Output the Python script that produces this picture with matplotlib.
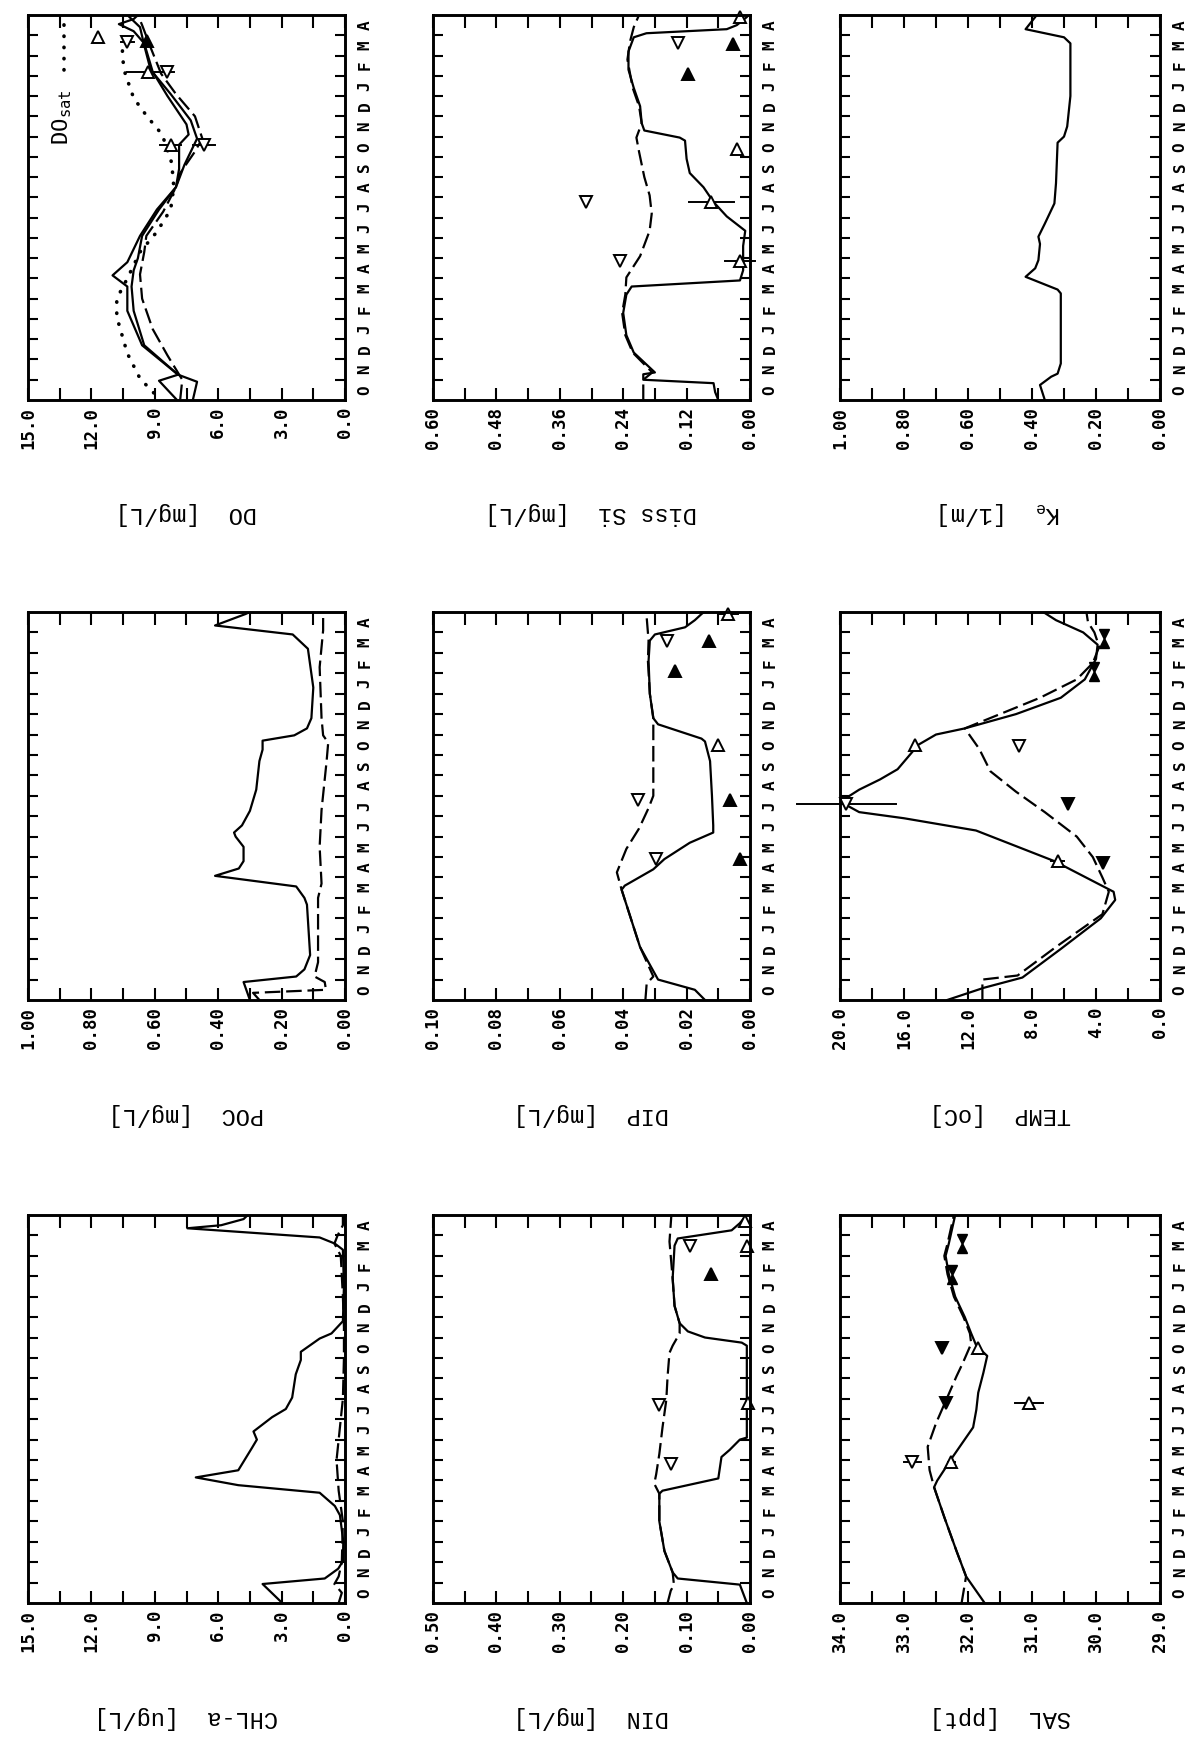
import numpy as np
import matplotlib.pyplot as plt
from matplotlib.transforms import offset_copy

plt.rcParams['font.family'] = ['DejaVu Sans Mono', 'DejaVu Sans']
plt.rcParams['mathtext.fontset'] = 'dejavusans'

W, H = 1201, 1742
months = list("ONDJFMAMJJASONDJFMA")

# time axis: months since 1 Oct (0..19)

# ---- CHL-a [ug/L]
chl_t = [0, 0.93, 1.2, 1.68, 2.05, 3.0, 4.3, 4.75, 5.4, 5.77, 6.15, 6.5, 7.6, 8.0, 8.4, 9.1, 9.5,
         10.06, 11.2, 11.9, 12.3, 12.95, 13.2, 13.8, 15.5, 17.3, 17.6, 17.9, 18.35, 18.5, 18.8, 19.0]
chl_s = [2.97, 3.9, 0.96, 0.32, 0.1, 0.08, 0.24, 0.48, 1.2, 5.05, 7.06, 5.05, 4.4, 4.17, 4.33, 3.45, 2.8,
         2.5, 2.33, 2.09, 2.09, 1.2, 0.64, 0.1, 0.05, 0.1, 0.48, 1.2, 7.46, 5.86, 4.8, 4.6]
chl_bt = [0, 0.5, 0.93, 1.3, 2.0, 4.0, 5.5, 7.0, 8.5, 10, 12, 13.5, 15, 17.0, 17.6, 18.0, 18.5, 19]
chl_b = [0.3, 0.15, 0.5, 0.3, 0.15, 0.1, 0.3, 0.4, 0.25, 0.1, 0.05, 0.05, 0.1, 0.2, 0.5, 0.35, 0.1, 0.1]

# ---- POC [mg/L]
poc_t = [0, 0.88, 1.15, 1.5, 2.2, 4.67, 5.0, 5.56, 6.08, 6.44, 6.8, 7.5, 8.0, 8.2, 8.55, 9.26, 10.3,
         11.7, 12.26, 12.7, 12.96, 13.3, 13.8, 15.3, 17.2, 17.9, 18.34, 18.9, 19]
poc_s = [0.30, 0.32, 0.154, 0.128, 0.11, 0.12, 0.128, 0.154, 0.41, 0.335, 0.32, 0.32, 0.345, 0.35, 0.325,
         0.30, 0.28, 0.27, 0.26, 0.26, 0.16, 0.12, 0.106, 0.10, 0.117, 0.165, 0.41, 0.314, 0.30]
poc_bt = [0, 0.35, 0.5, 0.88, 1.15, 1.85, 5.0, 5.7, 7.5, 9.3, 11.7, 12.6, 12.96, 13.8, 16.3, 18.1, 19]
poc_b = [0.27, 0.29, 0.06, 0.064, 0.096, 0.085, 0.085, 0.074, 0.08, 0.074, 0.058, 0.053, 0.069, 0.074,
         0.08, 0.069, 0.069]

# ---- DO [mg/L]
do_ta = [0, 0.9, 1.25, 2.7, 4.4, 5.6, 6.15, 6.8, 8.1, 9.4, 10.5, 11.4, 12.6, 13.1, 13.6, 15.0, 16.2,
         17.6, 18.2, 18.55, 18.8, 19]
do_a = [7.2, 7.0, 7.9, 9.6, 10.3, 10.3, 11.0, 10.3, 9.7, 8.9, 8.0, 7.85, 7.85, 7.4, 7.5, 8.4, 9.1,
        9.5, 10.0, 10.7, 10.0, 9.8]
do_tb = [0, 0.95, 1.25, 2.7, 4.4, 5.6, 6.4, 7.0, 8.1, 9.4, 10.5, 11.6, 12.9, 13.8, 15.1, 16.3, 17.5, 18.4, 19]
do_b = [7.95, 8.8, 7.9, 9.5, 10.0, 10.1, 10.0, 9.8, 9.6, 8.8, 8.0, 7.6, 7.0, 7.3, 8.25, 9.2, 9.5, 9.7, 10.3]
do_td = [0, 1.0, 2.2, 3.5, 5.0, 6.2, 7.3, 8.1, 9.3, 10.5, 11.2, 12.2, 12.9, 14.0, 15.1, 16.1, 17.4, 18.5, 19]
do_d = [7.8, 7.7, 8.4, 9.1, 9.6, 9.7, 9.5, 9.4, 8.6, 8.0, 7.8, 7.14, 6.75, 7.1, 8.0, 8.7, 9.2, 9.6, 9.8]
dosat_t = [0.35, 1.06, 2.3, 4.1, 5.0, 6.0, 7.3, 8.3, 9.4, 10.5, 11.7, 13.1, 14.0, 14.9, 16.1, 17.0, 17.6]
dosat = [9.05, 9.7, 10.3, 10.8, 10.8, 10.3, 9.7, 8.9, 8.25, 8.1, 8.2, 8.65, 9.37, 10.0, 10.4, 10.55, 10.5]
do_obs_t = [17.9, 17.65, 17.7, 16.2, 16.2, 12.6, 12.6]
do_obs_v = [11.7, 10.3, 9.37, 9.3, 8.4, 8.25, 6.67]
do_obs_k = ['u', 'd', 'uf', 'u', 'd', 'u', 'd']
do_obs_e = [0, 0.3, 0, 1.0, 0.3, 0.5, 0.5]

# ---- DIN [mg/L]
din_t = [0, 0.9, 1.2, 1.5, 2.55, 4.0, 5.35, 5.5, 6.1, 7.15, 7.5, 8.0, 8.1, 12.6, 12.75, 13.0, 13.3,
         13.7, 14.55, 15.9, 17.5, 17.85, 18.25, 18.6, 18.9, 19]
din_s = [0.005, 0.016, 0.114, 0.122, 0.135, 0.143, 0.143, 0.138, 0.05, 0.045, 0.032, 0.016, 0.005, 0.005,
         0.013, 0.071, 0.098, 0.111, 0.119, 0.122, 0.119, 0.114, 0.029, 0.016, 0.008, 0.006]
din_bt = [0, 0.6, 0.9, 1.5, 2.55, 4.0, 5.35, 5.84, 6.3, 7.3, 8.6, 9.95, 11.1, 12.25, 12.6, 13.2, 13.7,
          14.55, 15.9, 17.7, 19]
din_b = [0.13, 0.125, 0.12, 0.122, 0.135, 0.143, 0.143, 0.151, 0.148, 0.143, 0.138, 0.132, 0.13, 0.127,
         0.122, 0.111, 0.111, 0.119, 0.122, 0.127, 0.124]
din_obs_t = [6.8, 9.7, 9.8, 17.5, 16.1, 17.5, 18.7]
din_obs_v = [0.124, 0.143, 0.003, 0.005, 0.061, 0.095, 0.008]
din_obs_k = ['d', 'd', 'u', 'u', 'uf', 'd', 'u']
din_obs_e = [0, 0, 0, 0, 0, 0, 0]

# ---- DIP [mg/L]
dip_t = [0, 0.5, 1.0, 2.6, 5.4, 5.6, 6.4, 6.9, 7.7, 8.2, 8.55, 10.0, 11.7, 12.66, 12.8, 13.5, 13.8,
         15.0, 16.6, 17.6, 17.9, 18.25, 18.6, 18.9, 19]
dip_s = [0.0142, 0.0174, 0.029, 0.0347, 0.0405, 0.0395, 0.0305, 0.027, 0.019, 0.0116, 0.0116, 0.012,
         0.0126, 0.0142, 0.0153, 0.029, 0.0305, 0.0316, 0.032, 0.0316, 0.030, 0.0205, 0.0174, 0.0153, 0.0145]
dip_bt = [0, 0.8, 1.15, 2.6, 5.4, 6.25, 7.4, 8.4, 9.4, 10.0, 11.7, 13.3, 13.8, 15.0, 16.6, 17.6, 18.75, 19]
dip_b = [0.033, 0.0326, 0.0305, 0.0347, 0.0405, 0.042, 0.039, 0.035, 0.032, 0.0305, 0.0305, 0.0305,
         0.0305, 0.0316, 0.0322, 0.032, 0.0326, 0.0326]
dip_obs_t = [6.9, 9.8, 17.6, 6.9, 9.8, 12.5, 17.6, 16.1, 18.9]
dip_obs_v = [0.0295, 0.0353, 0.0263, 0.003, 0.0063, 0.010, 0.013, 0.0237, 0.0068]
dip_obs_k = ['d', 'd', 'd', 'uf', 'uf', 'u', 'uf', 'uf', 'u']
dip_obs_e = [0, 0, 0, 0, 0, 0, 0, 0, 0.003]

# ---- Diss Si [mg/L]
si_t = [0, 0.39, 0.83, 1.0, 1.27, 1.36, 2.34, 3.2, 4.3, 5.2, 5.6, 5.9, 6.4, 7.6, 8.35, 9.06, 9.77, 10.5,
        11.2, 11.9, 12.8, 12.95, 13.3, 13.66, 14.5, 15.4, 16.3, 17.2, 17.9, 18.1, 18.3, 18.5, 18.9, 19]
si_s = [0.06, 0.066, 0.069, 0.202, 0.202, 0.18, 0.22, 0.234, 0.24, 0.234, 0.224, 0.019, 0.013, 0.013,
        0.009, 0.044, 0.069, 0.088, 0.114, 0.12, 0.123, 0.133, 0.2, 0.205, 0.208, 0.22, 0.23, 0.23, 0.22,
        0.196, 0.044, 0.025, 0.006, 0.003]
si_bt = [0, 1.0, 1.36, 2.34, 3.2, 4.3, 5.2, 6.05, 7.1, 8.35, 9.2, 10.1, 11.0, 12.25, 12.95, 13.66, 14.5,
         15.4, 16.8, 17.7, 18.4, 19]
si_b = [0.202, 0.202, 0.185, 0.222, 0.236, 0.242, 0.236, 0.234, 0.208, 0.19, 0.186, 0.19, 0.2, 0.21,
        0.215, 0.205, 0.21, 0.222, 0.232, 0.227, 0.22, 0.21]
si_obs_t = [6.86, 9.77, 17.6, 6.86, 9.77, 12.4, 16.1, 17.55, 18.9]
si_obs_v = [0.246, 0.31, 0.136, 0.019, 0.073, 0.025, 0.117, 0.032, 0.019]
si_obs_k = ['d', 'd', 'd', 'u', 'u', 'u', 'uf', 'uf', 'u']
si_obs_e = [0, 0, 0, 0.028, 0.043, 0, 0, 0, 0]

# ---- TEMP [oC]
tmp_t = [0, 0.6, 1.1, 2.5, 4.0, 4.9, 5.3, 6.8, 8.3, 8.9, 9.2, 9.5, 9.9, 10.3, 10.8, 11.3, 12.5, 13.0,
         13.3, 14.0, 14.8, 15.7, 16.7, 17.4, 18.0, 18.6, 19]
tmp_s = [13.3, 11.0, 8.6, 6.2, 3.7, 2.8, 2.9, 6.6, 11.5, 16.0, 18.8, 19.5, 19.6, 18.8, 17.5, 16.4, 15.1,
         14.0, 12.2, 9.0, 6.2, 4.7, 4.0, 3.9, 4.8, 6.5, 7.3]
tmp_bt = [0, 1.0, 1.2, 2.6, 4.2, 5.3, 6.0, 7.0, 8.0, 9.2, 10.2, 11.2, 12.3, 13.3, 14.0, 14.8, 15.7, 16.5,
          17.3, 18.0, 18.5, 19]
tmp_b = [11.1, 11.1, 8.9, 6.5, 3.6, 3.2, 3.6, 4.2, 5.2, 7.2, 9.0, 10.6, 11.3, 12.2, 10.0, 7.5, 5.2, 4.2,
         3.8, 4.1, 4.5, 4.6]
tmp_obs_t = [9.6, 6.8, 12.5, 12.45, 9.6, 6.7, 16.1, 17.7]
tmp_obs_v = [19.6, 6.4, 15.3, 8.8, 5.76, 3.56, 4.1, 3.5]
tmp_obs_k = ['d', 'u', 'u', 'd', 'df', 'df', 'b', 'b']
tmp_obs_e = [3.1, 0.4, 0, 0, 0, 0, 0, 0]

# ---- SAL [ppt]
sal_t = [0, 1.3, 2.55, 4.2, 5.67, 6.0, 7.15, 7.65, 8.6, 9.46, 10.3, 11.27, 12.1, 12.6, 13.2, 14.0, 15.0,
         16.1, 17.0, 17.6, 18.3, 19]
sal_s = [31.74, 32.03, 32.18, 32.37, 32.53, 32.48, 32.24, 32.13, 31.92, 31.87, 31.84, 31.76, 31.7, 31.87,
         31.95, 32.05, 32.2, 32.3, 32.35, 32.3, 32.25, 32.2]
sal_bt = [0, 1.3, 2.55, 4.2, 5.67, 6.5, 7.65, 8.8, 9.95, 11.1, 11.76, 12.7, 13.2, 14.0, 15.0, 16.1, 17.0,
          17.6, 18.3, 19]
sal_b = [32.1, 32.03, 32.18, 32.37, 32.53, 32.6, 32.63, 32.5, 32.34, 32.18, 32.08, 31.95, 31.97, 32.07,
         32.22, 32.32, 32.37, 32.32, 32.27, 32.22]
sal_obs_t = [6.9, 6.9, 9.8, 9.8, 12.5, 12.5, 16.1, 17.6]
sal_obs_v = [32.87, 32.26, 32.34, 31.05, 32.4, 31.84, 32.25, 32.1]
sal_obs_k = ['d', 'u', 'df', 'u', 'df', 'u', 'b', 'b']
sal_obs_e = [0.13, 0.05, 0, 0.22, 0, 0, 0, 0]

# ---- Ke [1/m]
ke_t = [0, 0.74, 1.15, 1.3, 1.8, 5.26, 5.45, 6.08, 6.5, 6.9, 7.7, 8.06, 8.7, 9.7, 10.7, 12.7, 13.0, 13.5,
        15.0, 17.6, 17.9, 18.3, 18.9, 19]
ke = [0.36, 0.375, 0.34, 0.32, 0.31, 0.31, 0.32, 0.42, 0.39, 0.38, 0.375, 0.38, 0.36, 0.33, 0.325, 0.32,
      0.30, 0.29, 0.28, 0.28, 0.30, 0.42, 0.39, 0.385]

fig = plt.figure(figsize=(W / 100, H / 100), dpi=100)

LW = 1.6
DASH = (7, 2.6)


def make_panel(box, vmin, vmax, step, fmt, label):
    l, r, t, b = box
    ax = fig.add_axes([l / W, 1 - b / H, (r - l) / W, (b - t) / H])
    ax.set_xlim(vmax, vmin)
    ax.set_ylim(0, 19)
    major = np.arange(vmin, vmax + step / 10, step)
    ax.set_xticks(major)
    ax.set_xticks(np.arange(vmin + step / 2, vmax, step), minor=True)
    ax.set_xticklabels([fmt % v for v in major], rotation=90, fontsize=12.5, fontweight='bold')
    ax.set_yticks(np.arange(1, 19))
    ax.set_yticklabels([])
    ax.tick_params(axis='x', which='both', direction='in', top=True, bottom=True,
                   length=9, width=1.5, pad=5)
    ax.tick_params(axis='y', direction='in', left=True, right=True, length=7, width=1.5)
    for s in ax.spines.values():
        s.set_linewidth(2.1)
    for i, m in enumerate(months):
        ax.text(1.063, (i + 0.5) / 19, m, transform=ax.transAxes, rotation=90,
                ha='center', va='center', fontsize=11.5, fontweight='bold')
    ax.text(0.5, -0.295, label, transform=ax.transAxes, rotation=180, ha='center',
            va='center', fontsize=17, family='Liberation Mono')
    return ax


def draw_obs(ax, ts, vs, kinds, errs):
    up = offset_copy(ax.transData, fig=fig, y=3.2, units='points')
    dn = offset_copy(ax.transData, fig=fig, y=-3.2, units='points')
    for ti, vi, k, e in zip(ts, vs, kinds, errs):
        if e > 0:
            ax.plot([vi - e, vi + e], [ti, ti], color='black', lw=1.4, clip_on=False)
        if k == 'b':
            ax.plot(vi, ti, marker='v', ms=7, mfc='black', mec='black', ls='none', transform=up)
            ax.plot(vi, ti, marker='^', ms=7, mfc='black', mec='black', ls='none', transform=dn)
            continue
        mk = 'v' if k[0] == 'd' else '^'
        face = 'black' if k.endswith('f') else 'white'
        ax.plot(vi, ti, marker=mk, ms=8, mfc=face, mec='black', mew=1.4, ls='none', clip_on=False)


def solid(ax, v, t):
    ax.plot(v, t, color='black', lw=LW)


def dashed(ax, v, t):
    ax.plot(v, t, color='black', lw=LW, dashes=DASH)


cols = [(28, 345), (433, 750), (840, 1160)]
rows = [(15, 400), (612, 1000), (1215, 1603)]

# top row
ax = make_panel(cols[0] + rows[0], 0, 15, 3, '%.1f', 'DO  [mg/L]')
solid(ax, do_a, do_ta)
solid(ax, do_b, do_tb)
dashed(ax, do_d, do_td)
ax.plot(dosat, dosat_t, color='black', lw=2.6, ls=(0, (0.1, 3)), dash_capstyle='round')
ax.text(13.4, 12.6, r'DO$_{\mathregular{sat}}$', rotation=90, ha='center', va='bottom', fontsize=16)
ax.plot([13.3, 13.3], [16.3, 18.9], color='black', lw=2.6, ls=(0, (0.1, 3)), dash_capstyle='round')
draw_obs(ax, do_obs_t, do_obs_v, do_obs_k, do_obs_e)

ax = make_panel(cols[1] + rows[0], 0, 0.6, 0.12, '%.2f', 'Diss Si  [mg/L]')
solid(ax, si_s, si_t)
dashed(ax, si_b, si_bt)
draw_obs(ax, si_obs_t, si_obs_v, si_obs_k, si_obs_e)

ax = make_panel(cols[2] + rows[0], 0, 1.0, 0.2, '%.2f', r'K$_{\mathregular{e}}$  [1/m]')
solid(ax, ke, ke_t)

# middle row
ax = make_panel(cols[0] + rows[1], 0, 1.0, 0.2, '%.2f', 'POC  [mg/L]')
solid(ax, poc_s, poc_t)
dashed(ax, poc_b, poc_bt)

ax = make_panel(cols[1] + rows[1], 0, 0.10, 0.02, '%.2f', 'DIP  [mg/L]')
solid(ax, dip_s, dip_t)
dashed(ax, dip_b, dip_bt)
draw_obs(ax, dip_obs_t, dip_obs_v, dip_obs_k, dip_obs_e)

ax = make_panel(cols[2] + rows[1], 0, 20, 4, '%.1f', 'TEMP  [oC]')
solid(ax, tmp_s, tmp_t)
dashed(ax, tmp_b, tmp_bt)
draw_obs(ax, tmp_obs_t, tmp_obs_v, tmp_obs_k, tmp_obs_e)

# bottom row
ax = make_panel(cols[0] + rows[2], 0, 15, 3, '%.1f', 'CHL-a  [ug/L]')
solid(ax, chl_s, chl_t)
dashed(ax, chl_b, chl_bt)

ax = make_panel(cols[1] + rows[2], 0, 0.5, 0.1, '%.2f', 'DIN  [mg/L]')
solid(ax, din_s, din_t)
dashed(ax, din_b, din_bt)
draw_obs(ax, din_obs_t, din_obs_v, din_obs_k, din_obs_e)

ax = make_panel(cols[2] + rows[2], 29, 34, 1, '%.1f', 'SAL  [ppt]')
solid(ax, sal_s, sal_t)
dashed(ax, sal_b, sal_bt)
draw_obs(ax, sal_obs_t, sal_obs_v, sal_obs_k, sal_obs_e)

fig.savefig('out.png', dpi=100)
